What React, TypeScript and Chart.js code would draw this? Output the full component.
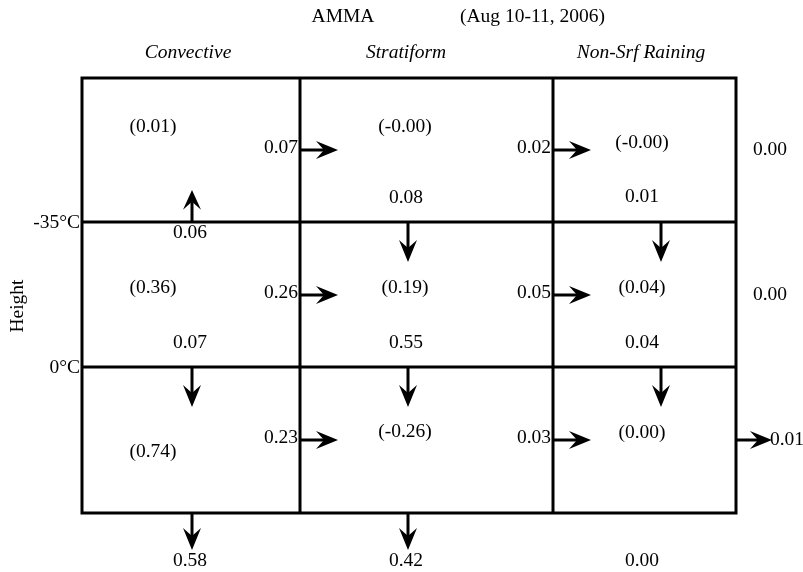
import React, { useEffect, useRef } from "react";
import { Chart, registerables } from "chart.js";
Chart.register(...registerables);

// ---------- data ----------
const title = "AMMA";
const period = "(Aug 10-11, 2006)";
const categories = ["Convective", "Stratiform", "Non-Srf Raining"];
const levelLabels = ["-35°C", "0°C"];
const axisLabel = "Height";
// storage terms (top layer, middle layer, low layer) per category
const storageTop = ["(0.01)", "(-0.00)", "(-0.00)"];
const storageMid = ["(0.36)", "(0.19)", "(0.04)"];
const storageLow = ["(0.74)", "(-0.26)", "(0.00)"];
// horizontal transfers: into Stratiform, into Non-Srf Raining, out to the right
const hFluxTop = ["0.07", "0.02", "0.00"];
const hFluxMid = ["0.26", "0.05", "0.00"];
const hFluxLow = ["0.23", "0.03", "0.01"];
// vertical transfers across -35°C, 0°C and the surface
const vFluxMinus35 = ["0.06", "0.08", "0.01"];
const vFluxMinus35Dir = ["up", "down", "down"];
const vFluxZero = ["0.07", "0.55", "0.04"];
const vFluxSurface = ["0.58", "0.42", "0.00"];

// ---------- layout (in scale units) ----------
const layout = {
  colEdges: [82, 300, 553, 736],
  rowEdges: [78, 222, 367, 513],
  storageX: [153, 405, 642],
  storageY: [
    [127, 127, 143],
    [288, 288, 288],
    [452, 432, 433],
  ],
  hArrowY: [150, 295, 440],
  hArrowLen: 38,
  rightLabelX: [770, 770, 787],
  vLabelX: [190, 406, 642],
  vArrowX: [192, 408, 661],
  vLabelY: [
    [233, 198, 197],
    [343, 343, 343],
    [561, 561, 561],
  ],
  vArrowLen: [32, 40, 37],
  headerY: 53,
  headerX: [188, 406, 641],
  titleY: 17,
  titleX: 343,
  periodX: 460,
  levelLabelX: 80,
  axisLabelX: 18,
  axisLabelY: 306,
};

const FONT = "'Liberation Serif', 'Times New Roman', serif";
const SIZE = 19.5;

function drawArrow(ctx, x0, y0, x1, y1) {
  const dx = x1 - x0;
  const dy = y1 - y0;
  const len = Math.hypot(dx, dy);
  const ux = dx / len;
  const uy = dy / len;
  const px = -uy;
  const py = ux;
  const headLen = Math.min(22, len * 0.62);
  const halfW = 9;
  const notch = 8;
  const bx = x1 - ux * headLen;
  const by = y1 - uy * headLen;
  ctx.save();
  ctx.strokeStyle = "#000";
  ctx.fillStyle = "#000";
  ctx.lineWidth = 3;
  ctx.lineCap = "butt";
  ctx.beginPath();
  ctx.moveTo(x0, y0);
  ctx.lineTo(bx + ux * notch, by + uy * notch);
  ctx.stroke();
  ctx.beginPath();
  ctx.moveTo(x1, y1);
  ctx.lineTo(bx + px * halfW, by + py * halfW);
  ctx.lineTo(bx + ux * notch, by + uy * notch);
  ctx.lineTo(bx - px * halfW, by - py * halfW);
  ctx.closePath();
  ctx.fill();
  ctx.restore();
}

const diagramPlugin = {
  id: "budgetDiagram",
  afterDraw(chart) {
    const ctx = chart.ctx;
    const xs = chart.scales.x;
    const ys = chart.scales.y;
    const X = (v) => xs.getPixelForValue(v);
    const Y = (v) => ys.getPixelForValue(v);
    const L = layout;

    ctx.save();
    // grid boxes
    ctx.strokeStyle = "#000";
    ctx.lineWidth = 3;
    ctx.lineCap = "square";
    const xl = X(L.colEdges[0]);
    const xr = X(L.colEdges[L.colEdges.length - 1]);
    const yt = Y(L.rowEdges[0]);
    const yb = Y(L.rowEdges[L.rowEdges.length - 1]);
    ctx.beginPath();
    L.rowEdges.forEach((r) => {
      ctx.moveTo(xl, Y(r));
      ctx.lineTo(xr, Y(r));
    });
    L.colEdges.forEach((c) => {
      ctx.moveTo(X(c), yt);
      ctx.lineTo(X(c), yb);
    });
    ctx.stroke();

    const text = (s, x, y, align = "center", italic = false) => {
      ctx.font = `${italic ? "italic " : ""}${SIZE}px ${FONT}`;
      ctx.fillStyle = "#000";
      ctx.textAlign = align;
      ctx.textBaseline = "middle";
      ctx.fillText(s, X(x), Y(y));
    };

    // titles
    text(title, L.titleX, L.titleY);
    text(period, L.periodX, L.titleY, "left");
    categories.forEach((c, i) => text(c, L.headerX[i], L.headerY, "center", true));

    // level labels
    levelLabels.forEach((lab, i) => text(lab, L.levelLabelX, L.rowEdges[i + 1] + 1, "right"));

    // axis label
    ctx.save();
    ctx.translate(X(L.axisLabelX), Y(L.axisLabelY));
    ctx.rotate(-Math.PI / 2);
    ctx.font = `${SIZE}px ${FONT}`;
    ctx.fillStyle = "#000";
    ctx.textAlign = "center";
    ctx.textBaseline = "middle";
    ctx.fillText(axisLabel, 0, 0);
    ctx.restore();

    // storage
    [storageTop, storageMid, storageLow].forEach((row, r) => {
      row.forEach((s, c) => text(s, L.storageX[c], L.storageY[r][c]));
    });

    // horizontal fluxes
    [hFluxTop, hFluxMid, hFluxLow].forEach((row, r) => {
      const ay = L.hArrowY[r];
      row.forEach((s, c) => {
        const edge = L.colEdges[c + 1];
        const val = parseFloat(s);
        if (c < row.length - 1) {
          text(s, edge - 2, ay - 2, "right");
          drawArrow(ctx, X(edge), Y(ay), X(edge + L.hArrowLen), Y(ay));
        } else {
          if (val !== 0) drawArrow(ctx, X(edge), Y(ay), X(edge + L.hArrowLen - 2), Y(ay));
          text(s, L.rightLabelX[r], ay, "center");
        }
      });
    });

    // vertical fluxes
    [vFluxMinus35, vFluxZero, vFluxSurface].forEach((row, r) => {
      const lineY = L.rowEdges[r + 1];
      row.forEach((s, c) => {
        text(s, L.vLabelX[c], L.vLabelY[r][c]);
        const val = parseFloat(s);
        if (val === 0) return;
        const dir = r === 0 ? vFluxMinus35Dir[c] : "down";
        const len = dir === "up" ? L.vArrowLen[0] : r === 2 ? L.vArrowLen[2] : L.vArrowLen[1];
        const ax = L.vArrowX[c];
        const tipY = dir === "up" ? lineY - len : lineY + len;
        drawArrow(ctx, X(ax), Y(lineY), X(ax), Y(tipY));
      });
    });
    ctx.restore();
  },
};

export default function App() {
  const ref = useRef(null);
  useEffect(() => {
    const chart = new Chart(ref.current, {
      type: "scatter",
      data: { datasets: [{ data: [], pointRadius: 0 }] },
      options: {
        animation: false,
        responsive: false,
        events: [],
        layout: { padding: 0 },
        plugins: { legend: { display: false }, tooltip: { enabled: false } },
        scales: {
          x: { type: "linear", min: 0, max: 803, display: false },
          y: { type: "linear", min: 0, max: 572, reverse: true, display: false },
        },
      },
      plugins: [diagramPlugin],
    });
    return () => chart.destroy();
  }, []);
  return (
    <div style={{ position: "absolute", left: 0, top: 0, width: 803, height: 572, background: "#fff" }}>
      <canvas ref={ref} width={803} height={572} style={{ display: "block" }} />
    </div>
  );
}
